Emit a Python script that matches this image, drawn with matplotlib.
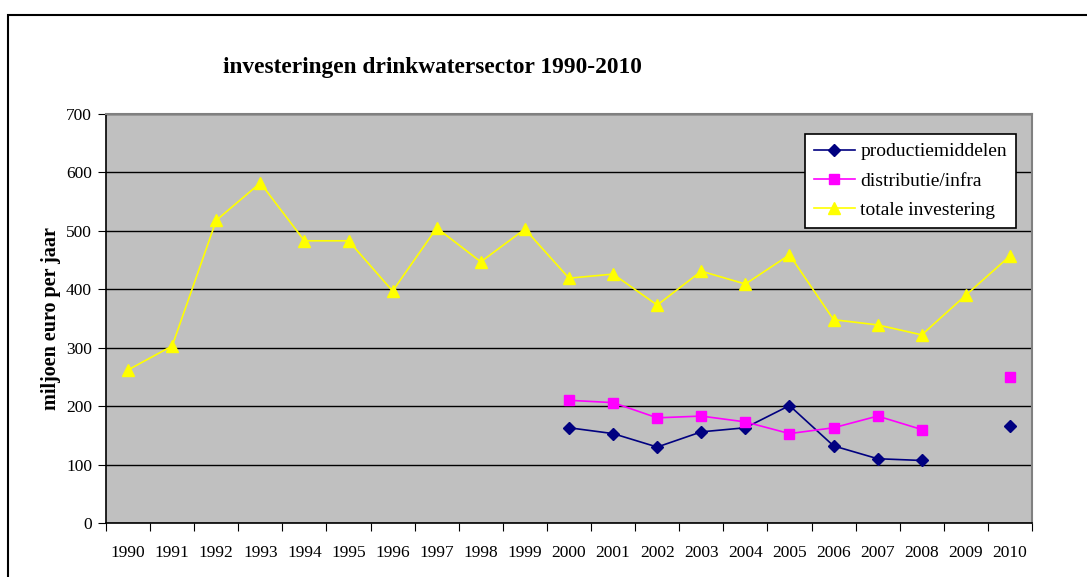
import numpy as np
import matplotlib
matplotlib.use("Agg")
import matplotlib.pyplot as plt
from matplotlib.patches import Rectangle

plt.rcParams["font.family"] = ["Liberation Serif", "DejaVu Serif"]

years = [str(y) for y in range(1990, 2011)]
nan = np.nan
productiemiddelen = [nan] * 10 + [163, 153, 130, 156, 163, 201, 132, 110, 107, nan, 166]
distributie_infra = [nan] * 10 + [210, 206, 180, 183, 173, 153, 163, 183, 160, nan, 250]
totale_investering = [262, 303, 518, 582, 483, 483, 397, 505, 447, 503,
                      419, 426, 373, 431, 409, 459, 348, 339, 322, 390, 457]

fig = plt.figure(figsize=(10.87, 5.77), dpi=100)
fig.patch.set_facecolor("white")

# outer chart frame (right/bottom fall off the picture)
fig.add_artist(Rectangle((8 / 1087, -0.1), 1.2, 1.1 - 15 / 577,
                         transform=fig.transFigure, fill=False,
                         edgecolor="black", linewidth=1.5))

ax = fig.add_axes([106 / 1087, 1 - 523 / 577, 926 / 1087, 409 / 577])
ax.set_facecolor("#C0C0C0")

x = np.arange(len(years))
ax.plot(x, productiemiddelen, color="#000080", marker="D", markersize=6,
        linewidth=1.2, label="productiemiddelen", zorder=4)
ax.plot(x, distributie_infra, color="#FF00FF", marker="s", markersize=7,
        linewidth=1.2, label="distributie/infra", zorder=4)
ax.plot(x, totale_investering, color="#FFFF00", marker="^", markersize=9,
        linewidth=1.2, label="totale investering", zorder=3)

ax.set_xlim(-0.5, len(years) - 0.5)
ax.set_ylim(0, 700)
ax.set_yticks(range(0, 701, 100))
ax.yaxis.grid(True, color="black", linewidth=1)
ax.set_axisbelow(True)

ax.set_xticks(np.arange(-0.5, len(years), 1.0))
ax.set_xticklabels([])
ax.set_xticks(x, minor=True)
ax.set_xticklabels(years, minor=True)
ax.tick_params(axis="x", which="major", direction="out", length=6, color="black")
ax.tick_params(axis="x", which="minor", length=0, pad=16, labelsize=12.5)
ax.tick_params(axis="y", direction="out", length=6, labelsize=12.5, pad=4)

for side in ["left", "bottom"]:
    ax.spines[side].set_color("black")
    ax.spines[side].set_linewidth(1.2)
for side in ["top", "right"]:
    ax.spines[side].set_color("#808080")
    ax.spines[side].set_linewidth(1.5)

ax.set_ylabel("miljoen euro per jaar", fontsize=14.5, fontweight="bold", labelpad=4)

fig.text(432 / 1087, 1 - 68 / 577, "investeringen drinkwatersector 1990-2010",
         ha="center", va="center", fontsize=16.8, fontweight="bold")

leg = ax.legend(loc="upper left", bbox_to_anchor=((805 - 106) / 926, 1 - (134 - 114) / 409),
                fontsize=14, frameon=True, fancybox=False, shadow=False,
                borderpad=0.45, labelspacing=0.6, handlelength=2.1, handletextpad=0.3,
                borderaxespad=0)
leg.get_frame().set_edgecolor("black")
leg.get_frame().set_facecolor("white")
leg.get_frame().set_alpha(1)
leg.get_frame().set_linewidth(1.2)

fig.savefig("out.png", dpi=100)
